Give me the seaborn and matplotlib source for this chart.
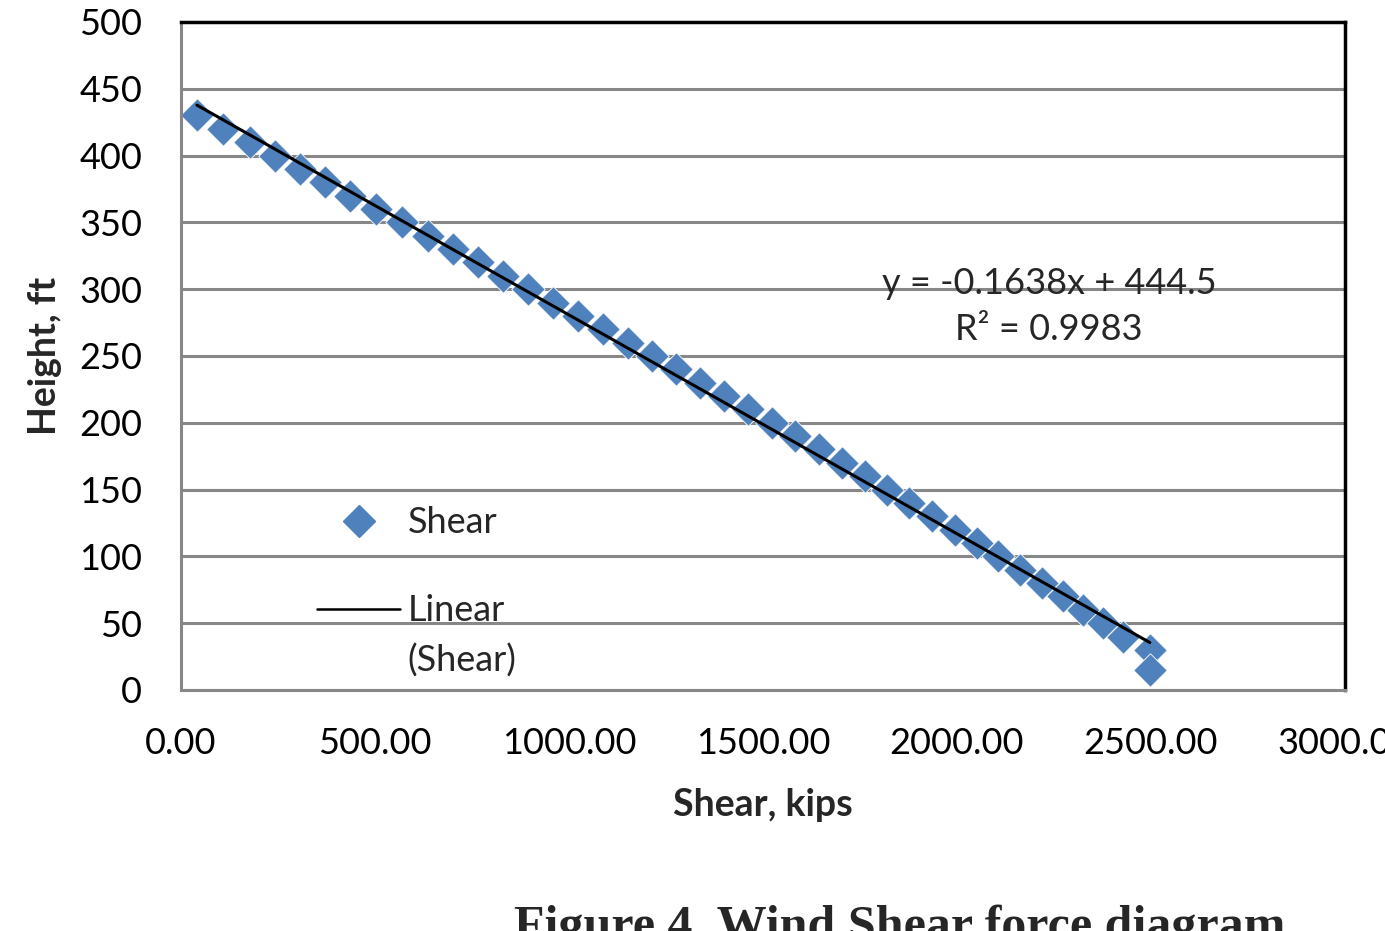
import numpy as np
import pandas as pd
import matplotlib
matplotlib.use("Agg")
import matplotlib.pyplot as plt
import seaborn as sns
from matplotlib.lines import Line2D
from matplotlib.legend_handler import HandlerLine2D

# -----------------------------------
# Data
# -----------------------------------

height_ft = [430, 420, 410, 400, 390, 380, 370, 360, 350, 340,
             330, 320, 310, 300, 290, 280, 270, 260, 250, 240,
             230, 220, 210, 200, 190, 180, 170, 160, 150, 140,
             130, 120, 110, 100, 90, 80, 70, 60, 50, 40,
             30, 15]

shear_kips = [41, 108, 178, 242, 307, 371, 436, 503, 570, 637,
              701, 765, 830, 894, 959, 1023, 1088, 1152, 1214, 1276,
              1338, 1399, 1461, 1523, 1582, 1644, 1704, 1763, 1820, 1876,
              1936, 1995, 2052, 2106, 2162, 2219, 2273, 2325, 2376, 2428,
              2497, 2497]

# trend line from the chart's equation
slope = -0.1638
intercept = 444.5
r_squared = 0.9983

x_ticks = [0, 500, 1000, 1500, 2000, 2500, 3000]
y_ticks = [0, 50, 100, 150, 200, 250, 300, 350, 400, 450, 500]

df = pd.DataFrame({"Shear": shear_kips, "Height": height_ft})


# legend line sits level with the first line of its two-line label
class RaisedLine(HandlerLine2D):
    def create_artists(self, legend, orig_handle, xdescent, ydescent,
                       width, height, fontsize, trans):
        artists = super().create_artists(legend, orig_handle, xdescent,
                                         ydescent, width, height,
                                         fontsize, trans)
        for a in artists:
            a.set_ydata(np.asarray(a.get_ydata()) + 0.75 * fontsize)
        return artists


# -----------------------------------
# Plot
# -----------------------------------

sns.set_theme(style="white")
plt.rcParams["font.family"] = ["Lato", "DejaVu Sans"]

fig = plt.figure(figsize=(13.85, 9.31), dpi=100)
ax = fig.add_axes([0.1307, 0.2589, 0.8404, 0.7175])

blue = "#4F81BD"
grid_gray = "#878787"

for yv in y_ticks[1:-1]:
    ax.axhline(yv, color=grid_gray, lw=2.2, zorder=0)

sns.scatterplot(data=df, x="Shear", y="Height", marker="D", s=290,
                color=blue, edgecolor="white", linewidth=0.6,
                ax=ax, legend=False, zorder=2)

line_x = np.array([min(shear_kips), max(shear_kips)])
ax.plot(line_x, slope * line_x + intercept, color="black", lw=2.2, zorder=3)

ax.set_xlim(0, 3000)
ax.set_ylim(0, 500)
ax.set_xticks(x_ticks)
ax.set_yticks(y_ticks)
ax.set_xticklabels([f"{v:.2f}" for v in x_ticks])
ax.tick_params(axis="both", length=0, labelsize=26, colors="black")
ax.tick_params(axis="x", pad=27)
ax.tick_params(axis="y", pad=28)

for side in ["left", "bottom"]:
    ax.spines[side].set_color(grid_gray)
    ax.spines[side].set_linewidth(2.2)
for side in ["top", "right"]:
    ax.spines[side].set_color("black")
    ax.spines[side].set_linewidth(2.5)

ax.set_xlabel("Shear, kips", fontsize=27, fontweight="bold", labelpad=20)
ax.set_ylabel("Height, ft", fontsize=27, fontweight="bold", labelpad=12)

ax.text(2237, 287, f"y = {slope}x + {intercept}\nR\u00b2 = {r_squared}",
        fontsize=26, ha="center", va="center", linespacing=1.45)

shear_handle = Line2D([], [], marker="D", color=blue, linestyle="none",
                      markersize=16)
trend_handle = Line2D([], [], color="black", lw=1.8)
leg = ax.legend([shear_handle, trend_handle], ["Shear", "Linear\n(Shear)"],
                frameon=False, fontsize=26, loc="lower left",
                bbox_to_anchor=(0.089, -0.03),
                handlelength=2.3, handletextpad=0.2, labelspacing=1.5,
                handler_map={trend_handle: RaisedLine()})
for t in leg.get_texts():
    t.set_linespacing(1.6)

fig.text(0.65, -0.022, "Figure 4. Wind Shear force diagram",
         fontsize=36, fontweight="bold", ha="center", va="bottom",
         family=["Liberation Serif", "DejaVu Serif"])

fig.savefig("out.png", dpi=100)
